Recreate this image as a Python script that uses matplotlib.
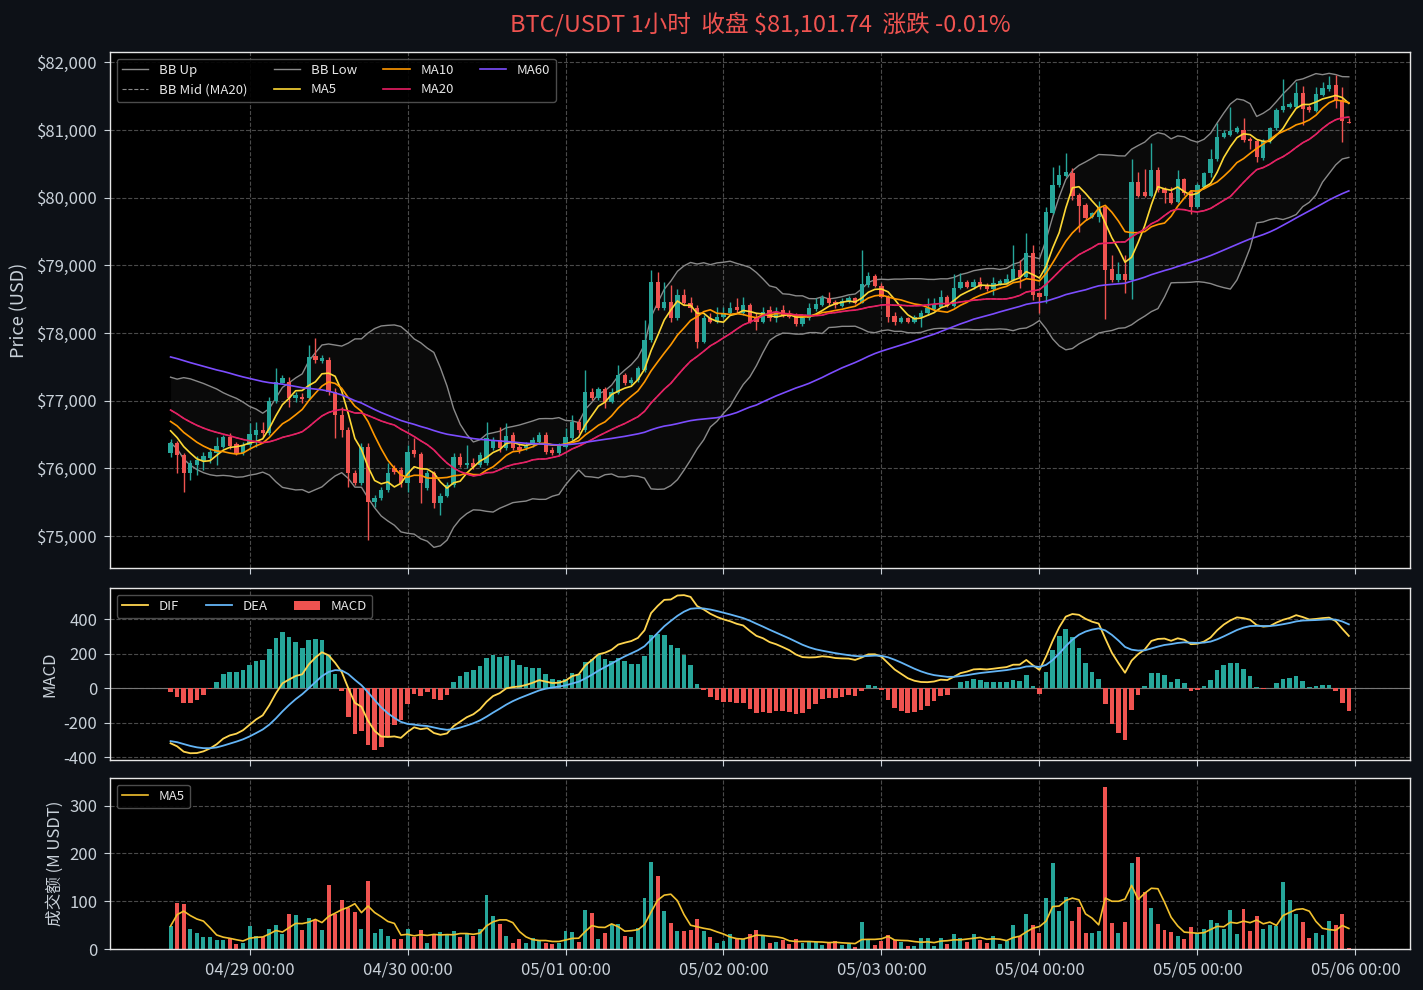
import numpy as np
import pandas as pd
import matplotlib
matplotlib.use('Agg')
import matplotlib.pyplot as plt
from matplotlib.ticker import FuncFormatter, MultipleLocator

# hourly candles, 04/28 12:00 -> 05/05 23:00
open_ = [76222, 76369, 76197, 75936, 76049, 76113, 76148, 76222, 76320, 76458,
         76355, 76231, 76345, 76493, 76566, 76527, 77000, 77266, 77281, 77034,
         77059, 77034, 77660, 77591, 77601, 77133, 76788, 76566, 75926, 75788,
         76320, 75507, 75557, 75680, 76000, 75975, 75778, 76271, 76212, 75704,
         75926, 75483, 75591, 75754, 76172, 76049, 76084, 76049, 76074, 76295,
         76419, 76295, 76493, 76320, 76295, 76345, 76394, 76493, 76271, 76222,
         76320, 76443, 76690, 76566, 77133, 77034, 77167, 76985, 77118, 77379,
         77256, 77305, 77453, 77896, 78758, 78364, 78463, 78217, 78561, 78438,
         78364, 77872, 78217, 78167, 78241, 78300, 78389, 78291, 78414, 78241,
         78167, 78340, 78217, 78340, 78300, 78251, 78133, 78217, 78350, 78414,
         78512, 78453, 78399, 78463, 78512, 78448, 78709, 78842, 78694, 78537,
         78251, 78167, 78217, 78167, 78231, 78291, 78350, 78389, 78527, 78404,
         78660, 78758, 78675, 78758, 78709, 78645, 78724, 78734, 78783, 78931,
         78832, 79187, 78586, 78547, 79778, 80187, 80320, 80359, 80039, 79891,
         79719, 79719, 79857, 78946, 78783, 78872, 78783, 80226, 80089, 80029,
         80409, 80123, 80074, 79941, 80271, 80089, 79867, 80162, 80359, 80566,
         80901, 80926, 80975, 81000, 80872, 80842, 80581, 80842, 81024, 81295,
         81345, 81345, 81542, 81335, 81286, 81517, 81601, 81665, 81443, 81110]
high = [76428, 76409, 76222, 76123, 76182, 76246, 76295, 76468, 76493, 76517,
        76394, 76394, 76665, 76690, 76690, 77059, 77478, 77379, 77355, 77133,
        77108, 77823, 77921, 77675, 77650, 77182, 76911, 76616, 75975, 76369,
        76369, 75606, 75729, 76074, 76049, 76025, 76345, 76443, 76246, 75975,
        75965, 75630, 75803, 76222, 76222, 76345, 76148, 76246, 76690, 76468,
        76616, 76665, 76542, 76369, 76394, 76468, 76542, 76542, 76320, 76379,
        76591, 76788, 76724, 77453, 77182, 77207, 77197, 77182, 77527, 77414,
        77345, 77512, 78192, 78931, 78906, 78758, 78709, 78645, 78645, 78537,
        78414, 78266, 78291, 78389, 78389, 78463, 78512, 78537, 78448, 78291,
        78379, 78399, 78379, 78414, 78340, 78291, 78241, 78438, 78512, 78561,
        78611, 78488, 78512, 78547, 78537, 79226, 78906, 78872, 78734, 78561,
        78315, 78251, 78241, 78266, 78340, 78512, 78512, 78635, 78561, 78872,
        78891, 78783, 78793, 78832, 78734, 78832, 78793, 78872, 79300, 79079,
        79483, 79300, 78611, 79867, 80458, 80483, 80655, 80433, 80064, 79916,
        79793, 79955, 79877, 79153, 79054, 79153, 80566, 80384, 80419, 80803,
        80458, 80153, 80162, 80409, 80286, 80113, 80212, 80384, 80714, 81108,
        81000, 81345, 81059, 81172, 80891, 80862, 80862, 81049, 81320, 81749,
        81419, 81714, 81650, 81369, 81640, 81714, 81798, 81813, 81630, 81172]
low = [76162, 75926, 75655, 75828, 75901, 75975, 76074, 76049, 76295, 76281,
       76197, 76197, 76295, 76320, 76468, 76493, 76960, 77256, 76911, 76985,
       76960, 77010, 77552, 77552, 77084, 76443, 76468, 75729, 75754, 75754,
       74941, 75433, 75532, 75655, 75916, 75729, 75655, 76172, 75483, 75680,
       75409, 75310, 75571, 75729, 76025, 76000, 75985, 76025, 76049, 76271,
       76246, 76271, 76271, 76222, 76271, 76320, 76369, 76212, 76197, 76197,
       76295, 76419, 76527, 76542, 77010, 77010, 76887, 76960, 77098, 77231,
       77231, 77281, 77428, 77872, 78340, 78340, 78167, 78192, 78414, 78315,
       77773, 77847, 78143, 78143, 78217, 78266, 78291, 78266, 78143, 78044,
       78143, 78182, 78167, 78241, 78217, 78103, 78103, 78192, 78330, 78399,
       78414, 78364, 78379, 78438, 78428, 78438, 78685, 78675, 78512, 78167,
       78118, 78143, 78153, 78153, 78093, 78266, 78330, 78379, 78379, 78389,
       78645, 78660, 78655, 78655, 78625, 78561, 78704, 78719, 78773, 78660,
       78813, 78488, 78291, 78438, 79758, 80162, 80300, 79965, 79497, 79670,
       79694, 79645, 78202, 78758, 78758, 78586, 78497, 80005, 80005, 80015,
       80089, 79916, 79906, 79916, 80039, 79758, 79842, 80138, 80310, 80547,
       80877, 80911, 80951, 80827, 80714, 80532, 80556, 80813, 81000, 81271,
       81320, 81320, 81074, 81271, 81271, 81502, 81581, 81320, 80827, 81098]
close = [76369, 76197, 75936, 76074, 76123, 76182, 76246, 76330, 76458, 76330,
         76231, 76345, 76507, 76566, 76527, 77000, 77281, 77330, 77034, 77084,
         77020, 77650, 77601, 77626, 77133, 76788, 76566, 75926, 75788, 76320,
         75507, 75557, 75680, 75926, 75951, 75778, 76246, 76212, 75778, 75926,
         75483, 75591, 75754, 76172, 76049, 76084, 76025, 76197, 76443, 76419,
         76295, 76478, 76295, 76271, 76345, 76419, 76493, 76246, 76222, 76345,
         76468, 76690, 76566, 77133, 77034, 77167, 76985, 77133, 77379, 77256,
         77305, 77478, 77896, 78758, 78364, 78463, 78217, 78561, 78438, 78364,
         77872, 78217, 78167, 78241, 78300, 78364, 78340, 78414, 78167, 78167,
         78315, 78217, 78315, 78266, 78241, 78133, 78217, 78364, 78428, 78512,
         78438, 78414, 78478, 78512, 78448, 78724, 78842, 78694, 78537, 78241,
         78167, 78226, 78167, 78241, 78300, 78364, 78428, 78527, 78404, 78670,
         78758, 78675, 78758, 78675, 78645, 78734, 78773, 78793, 78941, 78832,
         79187, 78561, 78537, 79793, 80187, 80335, 80384, 80024, 79877, 79694,
         79768, 79857, 78931, 78783, 78872, 78783, 80226, 80029, 80029, 80409,
         80113, 80064, 79926, 80271, 80064, 79867, 80187, 80359, 80566, 80901,
         80951, 80985, 81024, 80852, 80842, 80596, 80842, 81024, 81295, 81354,
         81384, 81542, 81305, 81295, 81532, 81616, 81665, 81443, 81138, 81101.74]
# quote volume, million USDT
volume = [48, 96, 94, 42, 34, 26, 26, 19, 19, 22,
          11, 13, 48, 28, 26, 42, 50, 32, 73, 71,
          40, 65, 61, 40, 135, 74, 102, 86, 77, 42,
          143, 34, 42, 28, 21, 21, 42, 26, 40, 13,
          32, 36, 30, 38, 26, 32, 28, 42, 114, 69,
          52, 28, 13, 21, 13, 23, 19, 13, 11, 13,
          38, 36, 15, 81, 75, 21, 34, 52, 52, 28,
          26, 44, 106, 183, 152, 79, 54, 38, 38, 40,
          63, 38, 26, 13, 17, 32, 21, 21, 32, 40,
          28, 13, 15, 19, 11, 21, 13, 15, 15, 9,
          15, 17, 9, 11, 5, 57, 19, 9, 17, 30,
          19, 15, 7, 7, 23, 23, 7, 23, 11, 32,
          23, 15, 32, 19, 13, 28, 11, 17, 50, 28,
          73, 50, 34, 106, 181, 79, 108, 59, 88, 34,
          34, 38, 340, 54, 34, 57, 181, 193, 119, 86,
          52, 40, 36, 28, 21, 46, 34, 42, 61, 54,
          42, 81, 32, 83, 38, 69, 42, 50, 48, 141,
          102, 73, 57, 23, 34, 30, 59, 50, 73, 3]
# closes before the visible window (not shown), estimated from where the
# MA / BB / MACD lines start on the left edge
close_before = [77700, 77750, 77800, 77750, 77850, 77900, 77850, 77800, 77900, 77950,
                77900, 77850, 77950, 77900, 78000, 77950, 78000, 78050, 78100, 78150,
                78200, 78250, 78300, 78300, 78350, 78350, 78400, 78400, 78400, 78450,
                78400, 78350, 78300, 78250, 78150, 78000, 77850, 77700, 77550, 77450,
                77350, 77250, 77150, 77100, 77000, 76950, 76900, 76950, 76850, 76800,
                76850, 76900, 76800, 76850, 76750, 76700, 76600, 76550, 76550]

tick_pos = [12, 36, 60, 84, 108, 132, 156, 180]
tick_labels = ['04/29 00:00', '04/30 00:00', '05/01 00:00', '05/02 00:00',
               '05/03 00:00', '05/04 00:00', '05/05 00:00', '05/06 00:00']

UP = '#26a69a'
DOWN = '#ef5350'
BG = '#0d1117'
TXT = '#c9d1d9'

plt.rcParams['font.family'] = ['Noto Sans CJK SC', 'DejaVu Sans']
plt.rcParams['axes.unicode_minus'] = False

# indicators
n0 = len(close_before)
s = pd.Series(close_before + close, dtype=float)
ma5 = s.rolling(5).mean()[n0:].values
ma10 = s.rolling(10).mean()[n0:].values
ma20 = s.rolling(20).mean()
sd20 = s.rolling(20).std()
bb_up = (ma20 + 2 * sd20)[n0:].values
bb_low = (ma20 - 2 * sd20)[n0:].values
ma20 = ma20[n0:].values
ma60 = s.rolling(60).mean()[n0:].values
ema12 = s.ewm(span=12, adjust=False).mean()
ema26 = s.ewm(span=26, adjust=False).mean()
dif = ema12 - ema26
dea = dif.ewm(span=9, adjust=False).mean()
macd = (2 * (dif - dea))[n0:].values
dif = dif[n0:].values
dea = dea[n0:].values
vol_ma5 = pd.Series(volume, dtype=float).rolling(5, min_periods=1).mean().values

x = np.arange(len(close))
o = np.array(open_, dtype=float)
c = np.array(close, dtype=float)
h = np.array(high, dtype=float)
l = np.array(low, dtype=float)
up = c >= o
col = np.where(up, UP, DOWN)

fig = plt.figure(figsize=(14.23, 9.9), dpi=100, facecolor=BG)
ax1 = fig.add_axes([0.0773, 0.4263, 0.9136, 0.5212])
ax2 = fig.add_axes([0.0773, 0.2323, 0.9136, 0.1738], sharex=ax1)
ax3 = fig.add_axes([0.0773, 0.0414, 0.9136, 0.1727], sharex=ax1)

for ax in (ax1, ax2, ax3):
    ax.set_facecolor('black')
    ax.grid(True, linestyle='--', color='#4a4a4a', linewidth=0.8)
    ax.set_axisbelow(True)
    for sp in ax.spines.values():
        sp.set_color('#e6e6e6')
        sp.set_linewidth(1.0)
    ax.tick_params(colors=TXT, labelsize=12, length=4, pad=5)

# price panel
ax1.fill_between(x, bb_low, bb_up, color='white', alpha=0.045, linewidth=0)
l_up, = ax1.plot(x, bb_up, color='#8a8a8a', lw=1.0, label='BB Up')
l_mid, = ax1.plot(x, ma20, color='#8a8a8a', lw=0.8, ls='--', label='BB Mid (MA20)')
l_low, = ax1.plot(x, bb_low, color='#8a8a8a', lw=1.0, label='BB Low')
ax1.vlines(x, l, h, colors=col, linewidth=1.0, zorder=3)
body = np.maximum(np.abs(c - o), 8)
ax1.bar(x, body, bottom=np.minimum(o, c), width=0.65, color=col, zorder=4)
l5, = ax1.plot(x, ma5, color='#fdd835', lw=1.2, label='MA5', zorder=5)
l10, = ax1.plot(x, ma10, color='#ff9800', lw=1.2, label='MA10', zorder=5)
l20, = ax1.plot(x, ma20, color='#e91e63', lw=1.2, label='MA20', zorder=5)
l60, = ax1.plot(x, ma60, color='#7c4dff', lw=1.2, label='MA60', zorder=5)
ax1.set_ylim(74527, 82152)
ax1.yaxis.set_major_locator(MultipleLocator(1000))
ax1.yaxis.set_major_formatter(FuncFormatter(lambda v, p: '\\$' + format(int(v), ',')))
ax1.set_ylabel('Price (USD)', color=TXT, fontsize=13, labelpad=6)
ax1.legend(handles=[l_up, l_mid, l_low, l5, l10, l20, l60], ncol=4, loc='upper left',
           fontsize=9.5, facecolor='black', edgecolor='#555555', labelcolor='#e6e6e6',
           framealpha=0.9, columnspacing=2.0)
ax1.set_title('BTC/USDT 1小时  收盘 \\$81,101.74  涨跌 -0.01%', color='#ef5350',
              fontsize=17, pad=15)

# MACD panel
ax2.axhline(0, color='#777777', lw=0.8)
ax2.bar(x, macd, width=0.7, color=np.where(macd >= 0, UP, DOWN), label='MACD', zorder=2)
ax2.plot(x, dif, color='#ffd54f', lw=1.3, label='DIF', zorder=3)
ax2.plot(x, dea, color='#64b5f6', lw=1.3, label='DEA', zorder=3)
ax2.set_ylim(-416, 581)
ax2.yaxis.set_major_locator(MultipleLocator(200))
ax2.set_ylabel('MACD', color=TXT, fontsize=12)
h2, lab2 = ax2.get_legend_handles_labels()
order = [lab2.index('DIF'), lab2.index('DEA'), lab2.index('MACD')]
ax2.legend([h2[i] for i in order], [lab2[i] for i in order], ncol=3, loc='upper left',
           fontsize=9.5, facecolor='black', edgecolor='#555555', labelcolor='#e6e6e6',
           framealpha=0.9, columnspacing=2.0)

# volume panel
ax3.bar(x, volume, width=0.6, color=col)
ax3.plot(x, vol_ma5, color='#f2c12e', lw=1.2, label='MA5')
ax3.set_ylim(0, 358)
ax3.yaxis.set_major_locator(MultipleLocator(100))
ax3.set_ylabel('成交额 (M USDT)', color=TXT, fontsize=12)
ax3.legend(loc='upper left', fontsize=9.5, facecolor='black', edgecolor='#555555',
           labelcolor='#e6e6e6', framealpha=0.9)

ax1.set_xlim(-9.2, 188.3)
ax3.set_xticks(tick_pos)
ax3.set_xticklabels(tick_labels)
plt.setp(ax1.get_xticklabels(), visible=False)
plt.setp(ax2.get_xticklabels(), visible=False)

fig.savefig('out.png', dpi=100, facecolor=BG)
